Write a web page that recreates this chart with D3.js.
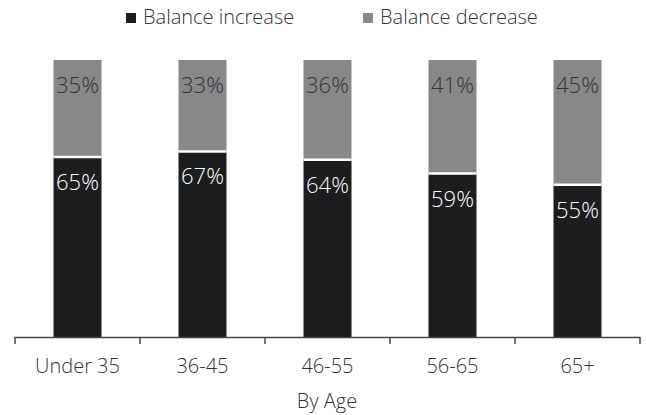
<!DOCTYPE html>
<html><head><meta charset="utf-8">
<script src="https://cdn.jsdelivr.net/npm/d3@7"></script>
<style>
body{margin:0;background:#fff;}
text{font-family:"Open Sans",sans-serif;font-weight:300;}
</style></head>
<body><svg id="c" width="646" height="415"></svg>
<script>
const categories = ["Under 35","36-45","46-55","56-65","65+"];
const increase = [65,67,64,59,55];
const decrease = [35,33,36,41,45];
const seriesNames = ["Balance increase","Balance decrease"];
const colors = ["#1c1d1f","#87888a"];
const labelColors = ["#ffffff","#333333"];

const svg = d3.select("#c");
const x = d3.scaleBand().domain(categories).range([15,640]).paddingInner(0.616).paddingOuter(0.308);
const y = d3.scaleLinear().domain([0,100]).range([337,60]);

const rows = categories.map((c,i)=>({cat:c, inc:increase[i], dec:decrease[i]}));
const stack = d3.stack().keys(["inc","dec"])(rows);

const g = svg.append("g");
stack.forEach((layer,li)=>{
  g.selectAll(null).data(layer).enter().append("rect")
    .attr("x",d=>x(d.data.cat))
    .attr("width",x.bandwidth())
    .attr("y",d=>y(d[1]))
    .attr("height",d=>y(d[0])-y(d[1]))
    .attr("fill",colors[li])
    .attr("stroke","#fff").attr("stroke-width",li===1?0:0);
  g.selectAll(null).data(layer).enter().append("text")
    .attr("x",d=>x(d.data.cat)+x.bandwidth()/2)
    .attr("y",d=>y(d[1])+33)
    .attr("text-anchor","middle")
    .attr("font-size",22)
    .attr("fill",labelColors[li])
    .text(d=>(d[1]-d[0])+"%");
});
// white separators
g.selectAll(null).data(stack[0]).enter().append("line")
  .attr("x1",d=>x(d.data.cat)).attr("x2",d=>x(d.data.cat)+x.bandwidth())
  .attr("y1",d=>y(d[1])).attr("y2",d=>y(d[1]))
  .attr("stroke","#fff").attr("stroke-width",2.5);

// axis
const ax = svg.append("g");
ax.append("line").attr("x1",15).attr("x2",640).attr("y1",337.5).attr("y2",337.5).attr("stroke","#444").attr("stroke-width",1.5);
const bounds = categories.map(c=>x(c)-x.step()*x.paddingInner()/2).concat([640]);
ax.selectAll(null).data(bounds).enter().append("line")
  .attr("x1",d=>d).attr("x2",d=>d).attr("y1",337).attr("y2",344)
  .attr("stroke","#444").attr("stroke-width",1.5);
ax.selectAll(null).data(categories).enter().append("text")
  .attr("x",d=>x(d)+x.bandwidth()/2).attr("y",373)
  .attr("text-anchor","middle").attr("font-size",20).attr("fill","#333")
  .text(d=>d);
svg.append("text").attr("x",327).attr("y",408).attr("text-anchor","middle")
  .attr("font-size",20).attr("fill","#333").text("By Age");

// legend
const leg = svg.append("g");
const legX = [126,363];
seriesNames.forEach((n,i)=>{
  leg.append("rect").attr("x",legX[i]).attr("y",13).attr("width",10).attr("height",10).attr("fill",colors[i]);
  leg.append("text").attr("x",legX[i]+17).attr("y",24).attr("font-size",20).attr("fill","#333").text(n);
});
</script></body></html>
